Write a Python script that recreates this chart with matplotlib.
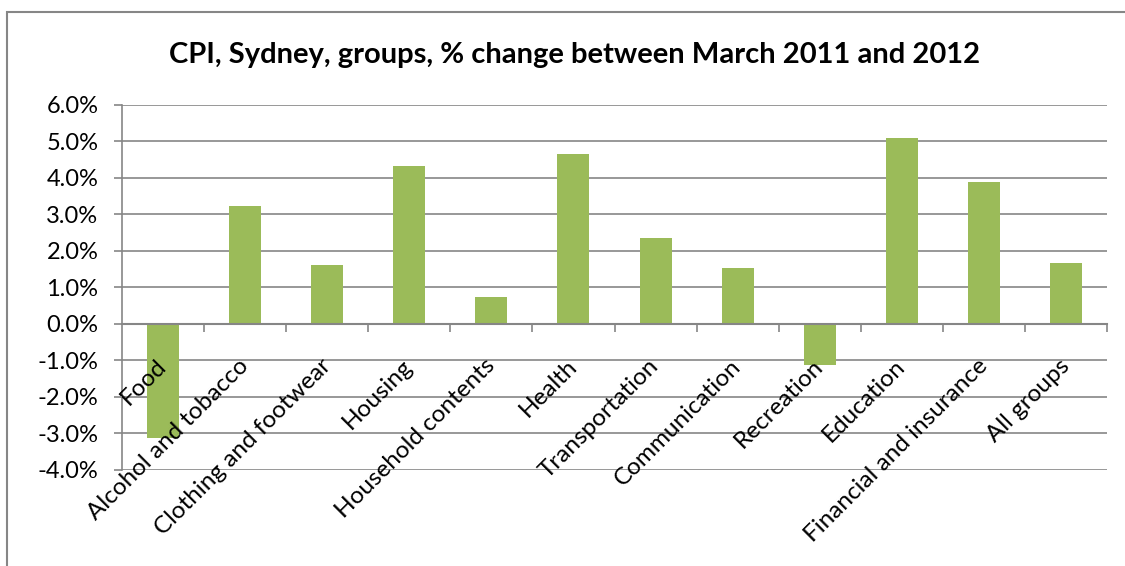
import numpy as np
import matplotlib.pyplot as plt
from matplotlib.patches import Rectangle
from matplotlib.ticker import FuncFormatter, FixedLocator

# CPI Sydney, % change March 2011 -> March 2012
groups = ['Food', 'Alcohol and tobacco', 'Clothing and footwear', 'Housing',
          'Household contents', 'Health', 'Transportation', 'Communication',
          'Recreation', 'Education', 'Financial and insurance', 'All groups']
pct_change = [-3.12, 3.23, 1.60, 4.32, 0.72, 4.65, 2.36, 1.54, -1.13, 5.09, 3.89, 1.65]
y_ticks = [-4, -3, -2, -1, 0, 1, 2, 3, 4, 5, 6]

plt.rcParams['font.family'] = ['Lato', 'DejaVu Sans']
grid_col = '#868686'

fig = plt.figure(figsize=(11.25, 5.66), dpi=100)
ax = fig.add_axes([122 / 1125, 1 - 470 / 566, (1107 - 122) / 1125, (470 - 104.5) / 566])
ax.set_axisbelow(False)  # tick labels on top of the bars

# gridlines drawn by hand, below the bars
for yv in y_ticks:
    ax.axhline(yv, color=grid_col, linewidth=1.2, zorder=1)

x = np.arange(len(groups))
ax.bar(x, pct_change, width=0.39, color='#9BBB59', zorder=2)

ax.set_xlim(-0.5, len(groups) - 0.5)
ax.set_ylim(-4, 6)
ax.set_yticks(y_ticks)
ax.yaxis.set_major_formatter(FuncFormatter(lambda v, p: f'{v:.1f}%'))
ax.tick_params(axis='y', length=6, width=1.2, color=grid_col, direction='out',
               labelsize=17, pad=11, labelcolor='black')

# x axis sits at zero
ax.spines['bottom'].set_position(('data', 0))
ax.spines['bottom'].set_color(grid_col)
ax.spines['bottom'].set_linewidth(1.5)
ax.spines['left'].set_color(grid_col)
ax.spines['left'].set_linewidth(1.2)
ax.spines['top'].set_visible(False)
ax.spines['right'].set_visible(False)

ax.set_xticks(x)
ax.set_xticklabels(groups, rotation=45, ha='right', va='center',
                   rotation_mode='anchor', fontsize=17.5)
ax.tick_params(axis='x', which='major', length=0, pad=28)
ax.xaxis.set_minor_locator(FixedLocator(np.arange(0.5, len(groups), 1.0)))
ax.tick_params(axis='x', which='minor', length=6, width=1.2, color=grid_col, direction='out')

fig.text(575 / 1125, 1 - 55 / 566, 'CPI, Sydney, groups, % change between March 2011 and 2012',
         ha='center', va='center', fontsize=21, fontweight='bold')

# chart frame (cropped on right and bottom)
fig.patches.append(Rectangle((7 / 1125, -0.1), 1.2, 1 - 12 / 566 + 0.1,
                             transform=fig.transFigure, fill=False,
                             edgecolor=grid_col, linewidth=1.5))

fig.savefig('out.png', dpi=100)
